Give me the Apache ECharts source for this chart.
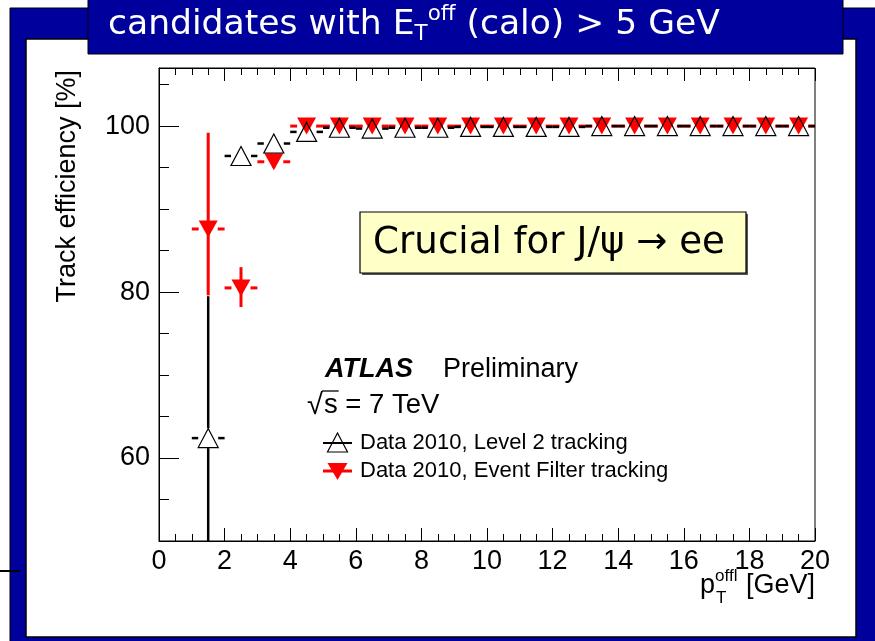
<!DOCTYPE html>
<html>
<head>
<meta charset="utf-8">
<script src="https://cdn.jsdelivr.net/npm/echarts@6/dist/echarts.min.js"></script>
<style>
  html, body { margin: 0; padding: 0; background: #ffffff; }
  #chart { width: 875px; height: 641px; }
</style>
</head>
<body>
<div id="chart"></div>
<script>
// Offline pT bin centres [GeV]
const binCenters = [1.5, 2.5, 3.5, 4.5, 5.5, 6.5, 7.5, 8.5, 9.5, 10.5, 11.5, 12.5, 13.5, 14.5, 15.5, 16.5, 17.5, 18.5, 19.5];
const binHalfWidth = 0.5;

// Level 2 tracking efficiency [%] and asymmetric errors
const l2Eff     = [62.4, 96.4, 97.9, 99.3, 99.8, 99.7, 99.8, 99.8, 99.9, 99.9, 99.9, 99.9, 100, 100, 100, 100, 100, 100, 100];
const l2ErrUp   = [17.1, 0.6, 0.5, 0.3, 0.1, 0.1, 0.1, 0.1, 0.1, 0.1, 0.1, 0.1, 0, 0, 0, 0, 0, 0, 0];
const l2ErrDown = [16.0, 0.8, 0.7, 0.4, 0.2, 0.2, 0.2, 0.2, 0.1, 0.1, 0.1, 0.1, 0.1, 0.1, 0.1, 0.1, 0.1, 0.1, 0.1];

// Event Filter tracking efficiency [%] and asymmetric errors
const efEff     = [87.6, 80.5, 95.7, 100, 100, 100, 100, 100, 100, 100, 100, 100, 100, 100, 100, 100, 100, 100, 100];
const efErrUp   = [11.6, 2.5, 0.6, 0, 0, 0, 0, 0, 0, 0, 0, 0, 0, 0, 0, 0, 0, 0, 0];
const efErrDown = [8.0, 2.3, 0.7, 0.1, 0.1, 0.1, 0.1, 0.1, 0.1, 0.1, 0.1, 0.1, 0.1, 0.1, 0.1, 0.1, 0.1, 0.1, 0.1];

// Axis ticks
const yMajorValues = [60, 80, 100];
const yMinorValues = [55, 65, 70, 75, 85, 90, 95, 105];

const SANS = "'Liberation Sans', Arial, Helvetica, sans-serif";
const COMIC = "'Comic Sans MS', 'DejaVu Sans', sans-serif";
const BLUE = '#00009c';

const measureCtx = document.createElement('canvas').getContext('2d');
function textWidth(str, size, family, weight, style) {
  measureCtx.font = (style || 'normal') + ' ' + (weight || 'normal') + ' ' + size + 'px ' + family;
  return measureCtx.measureText(str).width;
}
function textEl(str, x, y, size, family, color, extra) {
  const e = extra || {};
  return {
    type: 'text', x: x, y: y, z: e.z || 50, rotation: e.rotation || 0,
    style: {
      text: str, fill: color, font: (e.fontStyle || 'normal') + ' ' + (e.fontWeight || 'normal') + ' ' + size + 'px ' + family,
      textAlign: e.align || 'left', textVerticalAlign: 'middle'
    }
  };
}

function rows(values, up, down) {
  return binCenters.map((x, i) => [x, values[i], values[i] - down[i], values[i] + up[i]]);
}

// Error bars drawn in the ROOT style: horizontal bin-width bars and vertical
// error bars, both interrupted where the marker sits.
function errorBars(color, lineWidth, halfW, halfH) {
  return function (params, api) {
    const x = api.value(0), y = api.value(1), lo = api.value(2), hi = api.value(3);
    const c = api.coord([x, y]);
    const l = api.coord([x - binHalfWidth, y]);
    const r = api.coord([x + binHalfWidth, y]);
    const cs = params.coordSys;
    const clampY = v => Math.max(cs.y, Math.min(cs.y + cs.height, v));
    const t = clampY(api.coord([x, hi])[1]);
    const b = clampY(api.coord([x, lo])[1]);
    const style = { stroke: color, lineWidth: lineWidth };
    const children = [
      { type: 'line', shape: { x1: l[0], y1: c[1], x2: c[0] - halfW, y2: c[1] }, style: style },
      { type: 'line', shape: { x1: c[0] + halfW, y1: c[1], x2: r[0], y2: c[1] }, style: style }
    ];
    if (c[1] - halfH > t) children.push({ type: 'line', shape: { x1: c[0], y1: t, x2: c[0], y2: c[1] - halfH }, style: style });
    if (c[1] + halfH < b) children.push({ type: 'line', shape: { x1: c[0], y1: c[1] + halfH, x2: c[0], y2: b }, style: style });
    return { type: 'group', children: children };
  };
}

// ---- Slide frame and annotations ----
const graphics = [];
graphics.push({ type: 'rect', z: -20, shape: { x: 10, y: 8, width: 870, height: 640 }, style: { fill: BLUE, stroke: '#000', lineWidth: 1 } });
graphics.push({ type: 'rect', z: -19, shape: { x: 26, y: 39, width: 830, height: 598 }, style: { fill: '#fff', stroke: '#000', lineWidth: 1.5 } });
graphics.push({ type: 'rect', z: -18, shape: { x: 88, y: -2, width: 755, height: 56 }, style: { fill: BLUE, stroke: '#000', lineWidth: 1 } });
graphics.push({ type: 'line', z: -17, shape: { x1: 0, y1: 571, x2: 20, y2: 571 }, style: { stroke: '#000', lineWidth: 2 } });

// Title line: candidates with E_T^off (calo) > 5 GeV
(function () {
  const parts = [
    { t: 'candidates with E', k: 1, dy: 0 },
    { t: 'T', k: 0.62, dy: 9 },
    { t: 'off', k: 0.62, dy: -11 },
    { t: ' (calo) > 5 GeV', k: 1, dy: 0 }
  ];
  const target = 612;
  let w100 = 0;
  parts.forEach(p => { w100 += textWidth(p.t, 100 * p.k, COMIC); });
  const size = 100 * target / w100;
  let x = 108;
  parts.forEach(p => {
    graphics.push(textEl(p.t, x, 25 + p.dy, size * p.k, COMIC, '#fff'));
    x += textWidth(p.t, size * p.k, COMIC);
  });
})();

// Highlight box
(function () {
  graphics.push({ type: 'rect', z: 40, shape: { x: 362, y: 214, width: 386, height: 61 }, style: { fill: '#555', lineWidth: 0 } });
  graphics.push({ type: 'rect', z: 41, shape: { x: 360, y: 212, width: 386, height: 61 }, style: { fill: '#ffffc8', stroke: '#000', lineWidth: 1.2 } });
  const str = 'Crucial for J/\u03c8 \u2192 ee';
  const size = 100 * 352 / textWidth(str, 100, COMIC);
  graphics.push(textEl(str, 549, 243, size, COMIC, '#000', { align: 'center', z: 42 }));
})();

// Y axis title
graphics.push(textEl('Track efficiency [%]', 68, 70, 27, SANS, '#000', { align: 'right', rotation: Math.PI / 2 }));

// X axis title: p_T^offl [GeV]
(function () {
  const big = 27, small = 17;
  const wp = textWidth('p', big, SANS);
  const wSup = Math.max(textWidth('offl', small, SANS), textWidth('T', small, SANS));
  const wUnit = textWidth(' [GeV]', big, SANS);
  let x = 815 - (wp + wSup + 1 + wUnit);
  const y = 586;
  graphics.push(textEl('p', x, y, big, SANS, '#000'));
  x += wp;
  graphics.push(textEl('offl', x, y - 10, small, SANS, '#000'));
  graphics.push(textEl('T', x + 1, y + 12, small, SANS, '#000'));
  x += wSup + 1;
  graphics.push(textEl(' [GeV]', x, y, big, SANS, '#000'));
})();

// ATLAS label
graphics.push(textEl('ATLAS', 325, 370, 27, SANS, '#000', { fontWeight: 'bold', fontStyle: 'italic' }));
graphics.push(textEl('Preliminary', 443, 370, 27, SANS, '#000'));
(function () {
  const y = 405;
  graphics.push(textEl('\u221a', 307, y + 1, 29, SANS, '#000'));
  const xs = 307 + textWidth('\u221a', 29, SANS) + 1;
  graphics.push(textEl('s = 7 TeV', xs, y, 27.5, SANS, '#000'));
  graphics.push({ type: 'line', z: 50, shape: { x1: xs - 2, y1: 391, x2: xs + textWidth('s', 27.5, SANS) + 1, y2: 391 }, style: { stroke: '#000', lineWidth: 1.3 } });
})();

// Legend
(function () {
  const x1 = 323, x2 = 352, xc = 337.5;
  const yA = 443, yB = 471;
  graphics.push({ type: 'line', z: 50, shape: { x1: x1, y1: yA, x2: x2, y2: yA }, style: { stroke: '#000', lineWidth: 2 } });
  graphics.push({ type: 'polygon', z: 51, shape: { points: [[xc, yA - 10], [xc + 10, yA + 9], [xc - 10, yA + 9]] }, style: { fill: 'rgba(0,0,0,0)', stroke: '#000', lineWidth: 1.2 } });
  graphics.push(textEl('Data 2010, Level 2 tracking', 360, yA, 22, SANS, '#000'));
  graphics.push({ type: 'line', z: 50, shape: { x1: x1, y1: yB, x2: x2, y2: yB }, style: { stroke: '#ff0000', lineWidth: 3 } });
  graphics.push({ type: 'polygon', z: 51, shape: { points: [[xc - 10, yB - 8], [xc + 10, yB - 8], [xc, yB + 9]] }, style: { fill: '#ff0000' } });
  graphics.push(textEl('Data 2010, Event Filter tracking', 360, yB, 22, SANS, '#000'));
})();

const axisLine = { show: true, lineStyle: { color: '#000', width: 1 } };
const xAxisCommon = {
  type: 'value', min: 0, max: 20, interval: 2,
  axisLine: axisLine,
  axisTick: { show: true, inside: true, length: 13, lineStyle: { color: '#000', width: 1 } },
  minorTick: { show: true, splitNumber: 4, length: 7, lineStyle: { color: '#000', width: 1 } },
  splitLine: { show: false }, minorSplitLine: { show: false }
};

const chart = echarts.init(document.getElementById('chart'), null, { renderer: 'canvas' });
chart.setOption({
  animation: false,
  backgroundColor: '#ffffff',
  grid: { left: 159, right: 60, top: 68, bottom: 100, show: true, borderColor: '#000', borderWidth: 1, backgroundColor: 'rgba(0,0,0,0)' },
  xAxis: [
    Object.assign({}, xAxisCommon, {
      position: 'bottom',
      axisLabel: { show: true, color: '#000', fontSize: 27, fontFamily: SANS, margin: 7 }
    }),
    Object.assign({}, xAxisCommon, { position: 'top', axisLabel: { show: false } })
  ],
  yAxis: [
    {
      type: 'value', min: 50, max: 107, position: 'left',
      axisLine: axisLine,
      axisTick: { show: true, inside: true, length: 20, customValues: yMajorValues, lineStyle: { color: '#000' } },
      axisLabel: { show: true, customValues: yMajorValues, color: '#000', fontSize: 27, fontFamily: SANS, margin: 9 },
      splitLine: { show: false }
    },
    {
      type: 'value', min: 50, max: 107, position: 'left',
      axisLine: { show: false },
      axisTick: { show: true, inside: true, length: 10, customValues: yMinorValues, lineStyle: { color: '#000' } },
      axisLabel: { show: false },
      splitLine: { show: false }
    }
  ],
  graphic: { elements: graphics },
  series: [
    {
      name: 'Data 2010, Event Filter tracking (errors)', type: 'custom', silent: true,
      xAxisIndex: 0, yAxisIndex: 0, z: 3,
      data: rows(efEff, efErrUp, efErrDown),
      encode: { x: 0, y: [1, 2, 3] },
      renderItem: errorBars('#ff0000', 3, 9.5, 0)
    },
    {
      name: 'Data 2010, Event Filter tracking', type: 'scatter', silent: true,
      xAxisIndex: 0, yAxisIndex: 0, z: 4,
      data: binCenters.map((x, i) => [x, efEff[i]]),
      symbol: 'triangle', symbolRotate: 180, symbolSize: [19, 17],
      itemStyle: { color: '#ff0000', opacity: 1 }
    },
    {
      name: 'Data 2010, Level 2 tracking (errors)', type: 'custom', silent: true,
      xAxisIndex: 0, yAxisIndex: 0, z: 5,
      data: rows(l2Eff, l2ErrUp, l2ErrDown),
      encode: { x: 0, y: [1, 2, 3] },
      renderItem: errorBars('#000000', 2.5, 10, 10)
    },
    {
      name: 'Data 2010, Level 2 tracking', type: 'scatter', silent: true,
      xAxisIndex: 0, yAxisIndex: 0, z: 6,
      data: binCenters.map((x, i) => [x, l2Eff[i]]),
      symbol: 'triangle', symbolSize: [20, 19],
      itemStyle: { color: 'rgba(0,0,0,0)', borderColor: '#000', borderWidth: 1.2, opacity: 1 }
    }
  ]
});
</script>
</body>
</html>
